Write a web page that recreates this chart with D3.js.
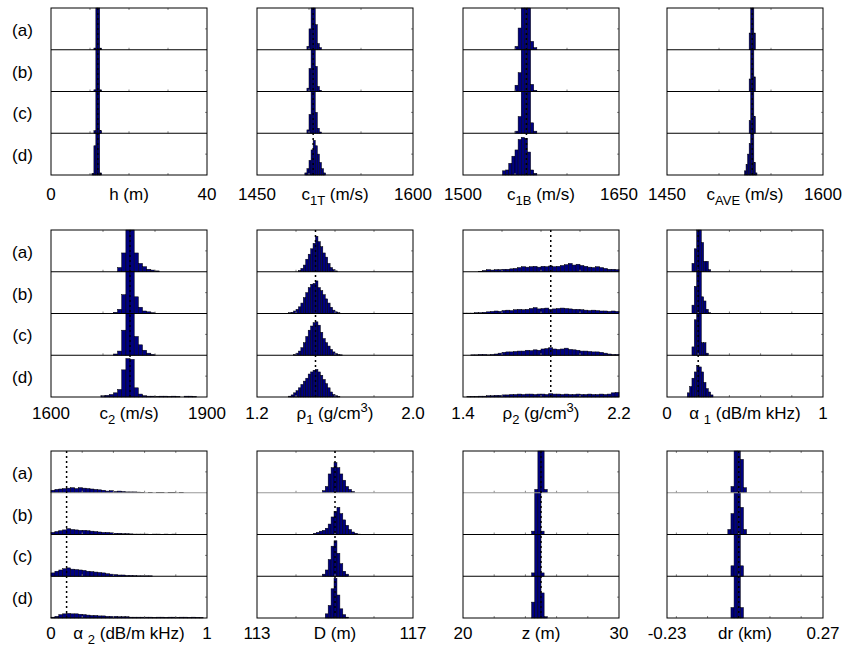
<!DOCTYPE html>
<html>
<head>
<meta charset="utf-8">
<script src="https://cdn.jsdelivr.net/npm/d3@7"></script>
<style>
body{margin:0;background:#fff}
svg{font-family:"Liberation Sans",Arial,sans-serif}
</style>
</head>
<body>
<div class="chart"></div>
<script>
// parameters, row by row (3 rows x 4 columns)
const caseLabels=['(a)','(b)','(c)','(d)']
const axisMin=[0,1450,1500,1450,1600,1.2,1.4,0,0,113,20,-0.23]
const axisMax=[40,1600,1650,1600,1900,2.0,2.2,1,1,117,30,0.27]
const minLabels=['0','1450','1500','1450','1600','1.2','1.4','0','0','113','20','-0.23']
const maxLabels=['40','1600','1650','1600','1900','2.0','2.2','1','1','117','30','0.27']
const trueValues=[12,1504,1561,1532,1752,1.5,1.85,0.2,0.1,115,25,0]
const binStart=[10.5,1494,1535,1524.5,1688,1.35,1.40,0.13,0,114.45,24.4,-0.045]
const binWidth=[0.5,2,3,1.5,8,0.0125,0.02,0.015,0.025,0.075,0.2,0.01]
const titles=[
	[['h (m)','']],
	[['c',''],['1T','sub'],[' (m/s)','']],
	[['c',''],['1B','sub'],[' (m/s)','']],
	[['c',''],['AVE','sub'],[' (m/s)','']],
	[['c',''],['2','sub'],[' (m/s)','']],
	[['ρ',''],['1','sub'],[' (g/cm',''],['3','sup'],[')','']],
	[['ρ',''],['2','sub'],[' (g/cm',''],['3','sup'],[')','']],
	[['α ',''],['1','sub'],[' (dB/m kHz)','']],
	[['α ',''],['2','sub'],[' (dB/m kHz)','']],
	[['D (m)','']],
	[['z (m)','']],
	[['dr (km)','']]
]

// bar heights relative to sub-panel height (>1 is clipped), cases (a)-(d)
const histH=[
	[0,0.04,1.2,1.2,0.04],
	[0,0.04,1.2,1.2,0.04],
	[0,0.06,1.2,1.2,0.06],
	[0.04,0.7,1.2,1.2,0.05]]
const histC1T=[
	[0,0,0.08,0.5,1.2,1.2,0.6,0.15,0.05],
	[0,0,0.08,0.55,1.2,1.2,0.6,0.12,0.03],
	[0,0,0.08,0.45,1.2,1.2,0.5,0.12,0.03],
	[0,0.05,0.15,0.35,0.6,0.83,0.7,0.5,0.3,0.15,0.05]]
const histC1B=[
	[0,0,0,0,0,0.08,0.52,1.2,1.2,1.2,0.2,0.05],
	[0,0,0,0,0,0.15,0.45,1.2,1.2,1.2,0.17,0.03],
	[0,0,0,0,0,0.05,0.4,1.2,1.2,1.1,0.25,0.05],
	[0,0.1,0.12,0.28,0.45,0.6,0.85,0.9,0.88,0.55,0.12,0.04]]
const histCAVE=[
	[0,0,0,0.4,1.2,1.2,0.4],
	[0,0,0,0.3,1.2,1.2,0.35],
	[0,0,0,0.3,1.2,1.2,0.4],
	[0.1,0.25,0.5,0.75,1.2,1.2,0.3,0.05]]
const histC2=[
	[0,0,0,0,0,0.1,0.45,1.2,1.2,0.45,0.2,0.12,0.06,0.04,0.02],
	[0,0,0,0,0.03,0.1,0.45,1.2,1.2,0.4,0.15,0.06,0.04,0.02],
	[0,0,0,0,0.03,0.1,0.6,1.2,1.2,0.45,0.25,0.12,0.05,0.02],
	[0,0.03,0.04,0.06,0.1,0.18,0.65,0.92,0.9,0.22,0.07,0.03,0.02,0.02,0.01,0.02,0.02,0.01,0.02,0.01,0,0.02,0.02,0.01]]
const histRho1=[
	[0,0,0,0,0,0.03,0.08,0.16,0.3,0.42,0.55,0.68,0.85,0.72,0.6,0.45,0.35,0.2,0.1,0.05,0.02],
	[0,0.02,0.03,0.06,0.1,0.16,0.25,0.38,0.5,0.62,0.7,0.72,0.78,0.62,0.55,0.45,0.35,0.25,0.15,0.08,0.04,0.02],
	[0,0,0,0.02,0.05,0.1,0.18,0.3,0.45,0.6,0.7,0.78,0.8,0.72,0.55,0.4,0.3,0.22,0.14,0.08,0.04,0.02,0.01],
	[0,0.02,0.05,0.1,0.15,0.22,0.3,0.38,0.45,0.55,0.6,0.64,0.66,0.6,0.52,0.42,0.32,0.22,0.12,0.06,0.03,0.01]]
const histRho2=[
	[0,0,0,0,0.01,0.03,0.05,0.04,0.05,0.05,0.06,0.06,0.07,0.08,0.1,0.12,0.11,0.12,0.13,0.11,0.13,0.12,0.14,0.12,0.13,0.15,0.17,0.2,0.16,0.18,0.15,0.13,0.11,0.1,0.12,0.1,0.08,0.06,0.06,0.05],
	[0.01,0.01,0.01,0.02,0.02,0.03,0.04,0.05,0.06,0.05,0.07,0.08,0.07,0.09,0.1,0.09,0.1,0.12,0.14,0.11,0.12,0.13,0.1,0.11,0.12,0.13,0.12,0.11,0.1,0.1,0.09,0.08,0.07,0.08,0.07,0.06,0.06,0.05,0.06,0.05],
	[0,0,0.01,0.01,0.02,0.02,0.01,0.02,0.03,0.05,0.07,0.08,0.08,0.09,0.1,0.1,0.12,0.11,0.13,0.12,0.15,0.16,0.18,0.15,0.14,0.15,0.17,0.14,0.13,0.12,0.1,0.1,0.09,0.08,0.08,0.07,0.05,0.03,0.02,0.02],
	[0,0.01,0.01,0.01,0.02,0.02,0.03,0.03,0.04,0.04,0.05,0.05,0.06,0.06,0.07,0.06,0.07,0.07,0.06,0.07,0.07,0.06,0.08,0.07,0.07,0.06,0.07,0.06,0.06,0.07,0.06,0.06,0.07,0.06,0.06,0.07,0.06,0.07,0.1,0.11]]
const histAlpha1=[
	[0,0,0.2,0.55,1.2,1.2,0.7,0.25,0.25,0.05],
	[0,0,0.2,0.65,1.2,1.2,0.4,0.3,0.1,0.02],
	[0,0,0.2,0.85,1.2,1.2,0.3,0.3,0.05],
	[0.1,0.25,0.45,0.6,0.75,0.72,0.6,0.35,0.2,0.12,0.05]]
const histAlpha2=[
	[0.06,0.08,0.09,0.1,0.11,0.12,0.1,0.12,0.11,0.1,0.09,0.08,0.07,0.06,0.04,0.05,0.03,0.04,0.03,0.02,0.02,0.02,0.015,0.01,0,0.01,0,0.01,0.01,0,0.01,0.01,0,0.01],
	[0.05,0.07,0.09,0.11,0.14,0.12,0.11,0.1,0.1,0.09,0.08,0.07,0.06,0.05,0.05,0.04,0.03,0.03,0.02,0.02,0.015,0.01,0.01,0.01,0.01,0,0.01,0.01,0,0.01,0,0.01],
	[0.08,0.12,0.15,0.18,0.2,0.17,0.16,0.15,0.14,0.12,0.11,0.1,0.09,0.08,0.06,0.05,0.04,0.03,0.03,0.02,0.02,0.015,0.01,0.01,0.01,0.01],
	[0.02,0.04,0.08,0.1,0.11,0.1,0.1,0.09,0.08,0.07,0.06,0.06,0.05,0.05,0.04,0.04,0.04,0.03,0.03,0.03,0.02,0.02,0.02,0.02,0.02,0.02,0.015,0.02,0.02,0.015,0.02,0.02,0.015,0.02,0.02,0.015,0.02,0.015,0.01]]
const histD=[
	[0,0,0,0.05,0.15,0.45,0.6,0.72,0.6,0.45,0.3,0.15,0.08,0.03],
	[0.03,0.05,0.08,0.1,0.15,0.25,0.42,0.55,0.65,0.5,0.35,0.22,0.12,0.06,0.03,0.01],
	[0,0,0,0.05,0.15,0.4,0.72,0.85,0.55,0.3,0.12,0.05],
	[0,0,0,0,0.1,0.3,0.7,0.95,0.55,0.22,0.08,0.02]]
const histZ=[
	[0,0.08,1.2,1.2,0.08],
	[0.08,1.2,1.2,0.08],
	[0.08,1.2,1.2,0.08],
	[0.38,1.2,1.2,0.6,0.03]]
const histDr=[
	[0,0,0.15,1.2,1.2,0.8,0.12],
	[0,0.12,0.5,1.2,1.2,0.65,0.12],
	[0,0,0.25,1.2,1.2,0.25],
	[0,0,0.25,1.2,1.2,0.25]]
const histograms=[histH,histC1T,histC1B,histCAVE,histC2,histRho1,histRho2,histAlpha1,histAlpha2,histD,histZ,histDr]

const colX=[51,257,463,667], rowY=[8,230,451]
const panelW=156, panelH=167, subH=panelH/4
const labelOffset=[25,21.5,20.5]
const fontSize=17

const svg=d3.select('.chart').append('svg')
	.attr('width',843)
	.attr('height',648)

histograms.forEach((hist,p)=>{
	const row=Math.floor(p/4), col=p%4
	const g=svg.append('g')
		.attr('transform','translate('+colX[col]+','+rowY[row]+')')

	const x=d3.scaleLinear()
		.domain([axisMin[p],axisMax[p]])
		.range([0,panelW])
	const ticks=x.ticks(4).filter(t=>t>axisMin[p]&&t<axisMax[p])
	const edge=i=>x(binStart[p]+i*binWidth[p])

	hist.forEach((counts,k)=>{
		const y=d3.scaleLinear()
			.domain([0,1])
			.range([subH,0])
			.clamp(true)
		const sub=g.append('g')
			.attr('transform','translate(0,'+(k*subH)+')')

		const bins=counts.map((v,i)=>({v:v,i:i})).filter(d=>d.v>0)
		sub.selectAll('rect')
			.data(bins)
			.enter()
			.append('rect')
			.attr('x',d=>edge(d.i))
			.attr('width',d=>edge(d.i+1)-edge(d.i))
			.attr('y',d=>y(d.v))
			.attr('height',d=>subH-y(d.v))
			.attr('fill','#000080')
			.attr('stroke','#000')
			.attr('stroke-width',0.5)

		// small inward ticks
		sub.selectAll('.tk')
			.data(ticks)
			.enter()
			.append('line')
			.attr('x1',d=>x(d)).attr('x2',d=>x(d))
			.attr('y1',subH).attr('y2',subH-2)
			.attr('stroke','#888')
			.attr('stroke-width',1)
		sub.append('line')
			.attr('x1',panelW).attr('x2',panelW-2)
			.attr('y1',y(0.5)).attr('y2',y(0.5))
			.attr('stroke','#888')

		if(k>0){
			sub.append('line')
				.attr('x1',0).attr('x2',panelW)
				.attr('y1',0).attr('y2',0)
				.attr('stroke',(row==2&&k==1)?'#999':'#000')
				.attr('stroke-width',1.2)
		}

		if(col==0){
			svg.append('text')
				.attr('x',22.5)
				.attr('y',rowY[row]+k*subH+subH/2+7)
				.attr('text-anchor','middle')
				.attr('font-size',fontSize)
				.text(caseLabels[k])
		}
	})

	g.selectAll('.toptk')
		.data(ticks)
		.enter()
		.append('line')
		.attr('x1',d=>x(d)).attr('x2',d=>x(d))
		.attr('y1',0).attr('y2',2)
		.attr('stroke','#888')

	// true value
	g.append('line')
		.attr('x1',x(trueValues[p])).attr('x2',x(trueValues[p]))
		.attr('y1',0).attr('y2',panelH)
		.attr('stroke','#000')
		.attr('stroke-width',1.5)
		.attr('stroke-dasharray','2,3')

	g.append('rect')
		.attr('x',0).attr('y',0)
		.attr('width',panelW).attr('height',panelH)
		.attr('fill','none')
		.attr('stroke','#000')
		.attr('stroke-width',1)

	const ly=panelH+labelOffset[row]
	g.append('text')
		.attr('x',0).attr('y',ly)
		.attr('text-anchor','middle')
		.attr('font-size',fontSize)
		.text(minLabels[p])
	g.append('text')
		.attr('x',panelW).attr('y',ly)
		.attr('text-anchor','middle')
		.attr('font-size',fontSize)
		.text(maxLabels[p])

	const title=g.append('text')
		.attr('x',panelW/2).attr('y',ly)
		.attr('text-anchor','middle')
		.attr('font-size',fontSize)
	let shift=0
	titles[p].forEach(part=>{
		const target=part[1]=='sub'?5:part[1]=='sup'?-7:0
		title.append('tspan')
			.attr('dy',target-shift)
			.attr('font-size',part[1]?13:fontSize)
			.text(part[0])
		shift=target
	})
})
</script>
</body>
</html>
